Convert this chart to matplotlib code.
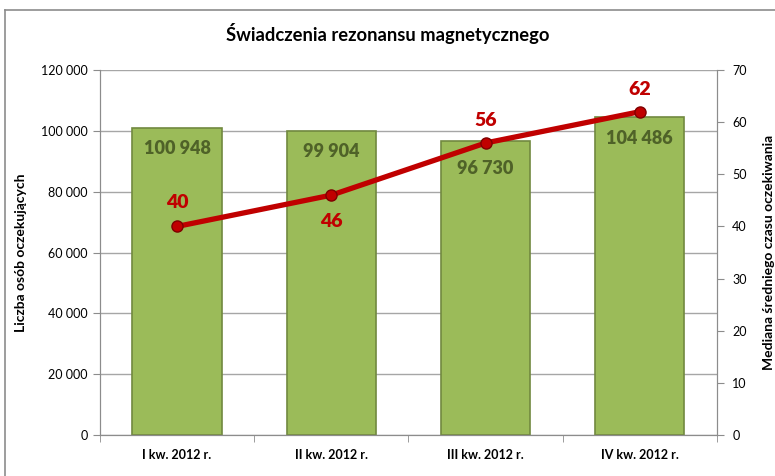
import matplotlib
matplotlib.use("Agg")
import matplotlib.pyplot as plt
import matplotlib.ticker as ticker
from matplotlib.lines import Line2D

plt.rcParams["font.family"] = ["Lato", "DejaVu Sans"]

quarters = ["I kw. 2012 r.", "II kw. 2012 r.", "III kw. 2012 r.", "IV kw. 2012 r."]
waiting = [100948, 99904, 96730, 104486]
median_days = [40, 46, 56, 62]

# label offsets in points (bar labels shifted to keep clear of the line)
bar_label_dy = [-15, -15, -20, -15]
line_label_dy = [17, -19, 16, 16]

fig = plt.figure(figsize=(7.75, 4.76), dpi=100)
ax = fig.add_axes([0.129, 0.086, 0.796, 0.767])
ax2 = ax.twinx()

# chart frame (left and top edges visible)
fig.add_artist(Line2D([5 / 775, 5 / 775], [0, 1 - 10 / 476], color="#8c8c8c", lw=1.2, transform=fig.transFigure))
fig.add_artist(Line2D([5 / 775, 1], [1 - 10 / 476, 1 - 10 / 476], color="#8c8c8c", lw=1.2, transform=fig.transFigure))

x = range(len(quarters))
ax.set_axisbelow(True)
ax.grid(axis="y", color="#a6a6a6", lw=1)
ax.bar(x, waiting, width=0.58, color="#9bbb59", edgecolor="#71893f", lw=1.2, zorder=2)
for i, v in enumerate(waiting):
    ax.annotate(f"{v:,}".replace(",", " "), (i, v), xytext=(0, bar_label_dy[i]), textcoords="offset points",
                ha="center", va="center", fontsize=13, fontweight="heavy", color="#4f6228")

ax.set_ylim(0, 120000)
ax.set_yticks(range(0, 120001, 20000))
ax.yaxis.set_major_formatter(ticker.FuncFormatter(lambda v, _: f"{int(v):,}".replace(",", " ")))
ax.set_xlim(-0.5, 3.5)
ax.set_xticks(list(x))
ax.set_xticklabels(quarters, fontsize=9, fontweight="bold")
ax.set_xticks([-0.5, 0.5, 1.5, 2.5, 3.5], minor=True)
ax.tick_params(axis="x", which="major", length=0, pad=10)
ax.tick_params(axis="x", which="minor", length=5, color="#8c8c8c")
ax.tick_params(axis="y", length=5, color="#8c8c8c", labelsize=9, pad=4)
ax.set_ylabel("Liczba osób oczekujących", fontsize=10, fontweight="bold", labelpad=10)

ax2.plot(x, median_days, color="#c00000", lw=3.8, marker="o", ms=8, mfc="#c00000", mec="#7f0000", mew=1, zorder=3)
for i, v in enumerate(median_days):
    ax2.annotate(str(v), (i, v), xytext=(0, line_label_dy[i]), textcoords="offset points",
                 ha="center", va="center", fontsize=14, fontweight="heavy", color="#c00000")
ax2.set_ylim(0, 70)
ax2.set_yticks(range(0, 71, 10))
ax2.tick_params(axis="y", length=5, color="#8c8c8c", labelsize=9, pad=6)
ax2.set_ylabel("Mediana średniego czasu oczekiwania", fontsize=10, fontweight="bold", labelpad=12)

for a in (ax, ax2):
    a.spines["top"].set_visible(False)
    for side in ("left", "right", "bottom"):
        a.spines[side].set_color("#8c8c8c")

fig.text(0.5, 1 - 33 / 476, "Świadczenia rezonansu magnetycznego", ha="center", va="center",
         fontsize=13.2, fontweight="bold")

fig.savefig("out.png", dpi=100)
